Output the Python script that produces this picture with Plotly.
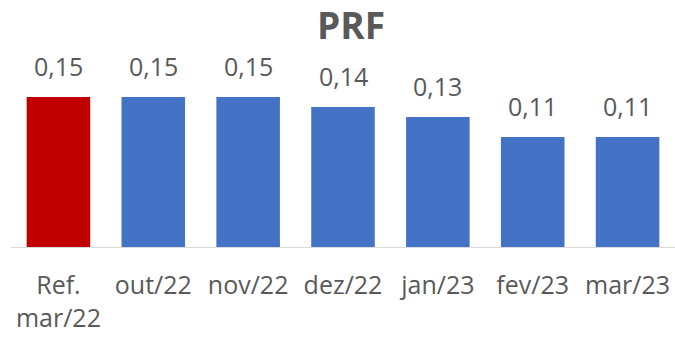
import plotly.graph_objects as go

# Categories and PRF values
categories = ["Ref.<br>mar/22", "out/22", "nov/22", "dez/22", "jan/23", "fev/23", "mar/23"]
values = [0.15, 0.15, 0.15, 0.14, 0.13, 0.11, 0.11]
bar_colors = ["#C00000", "#4472C4", "#4472C4", "#4472C4", "#4472C4", "#4472C4", "#4472C4"]

FONT = "Open Sans"
TEXT_COLOR = "#595959"

fig = go.Figure(
    go.Bar(
        x=categories,
        y=values,
        marker=dict(color=bar_colors, line=dict(width=0)),
        width=0.67,
        hoverinfo="skip",
    )
)

# Value labels above each bar (decimal comma)
for cat, v in zip(categories, values):
    fig.add_annotation(
        x=cat, y=v, xref="x", yref="y",
        text=f"{v:.2f}".replace(".", ","),
        showarrow=False, yanchor="middle", yshift=31,
        font=dict(family=FONT, size=25, color=TEXT_COLOR),
    )

fig.update_layout(
    width=675, height=338,
    margin=dict(l=11, r=0, t=47, b=91),
    paper_bgcolor="white", plot_bgcolor="white",
    showlegend=False,
    title=dict(
        text="<b>PRF</b>", x=0.512, xref="paper", xanchor="center",
        y=1 - 26 / 338, yanchor="middle",
        font=dict(family=FONT, size=37, color=TEXT_COLOR),
    ),
    xaxis=dict(
        type="category", range=[-0.5, 6.5],
        showline=True, linecolor="#D9D9D9", linewidth=1,
        showgrid=False, ticks="", ticklabelstandoff=16,
        tickfont=dict(family=FONT, size=25, color=TEXT_COLOR),
    ),
    yaxis=dict(
        range=[0, 0.2], visible=False, showgrid=False, zeroline=False,
    ),
)

fig.write_html("out.html")
